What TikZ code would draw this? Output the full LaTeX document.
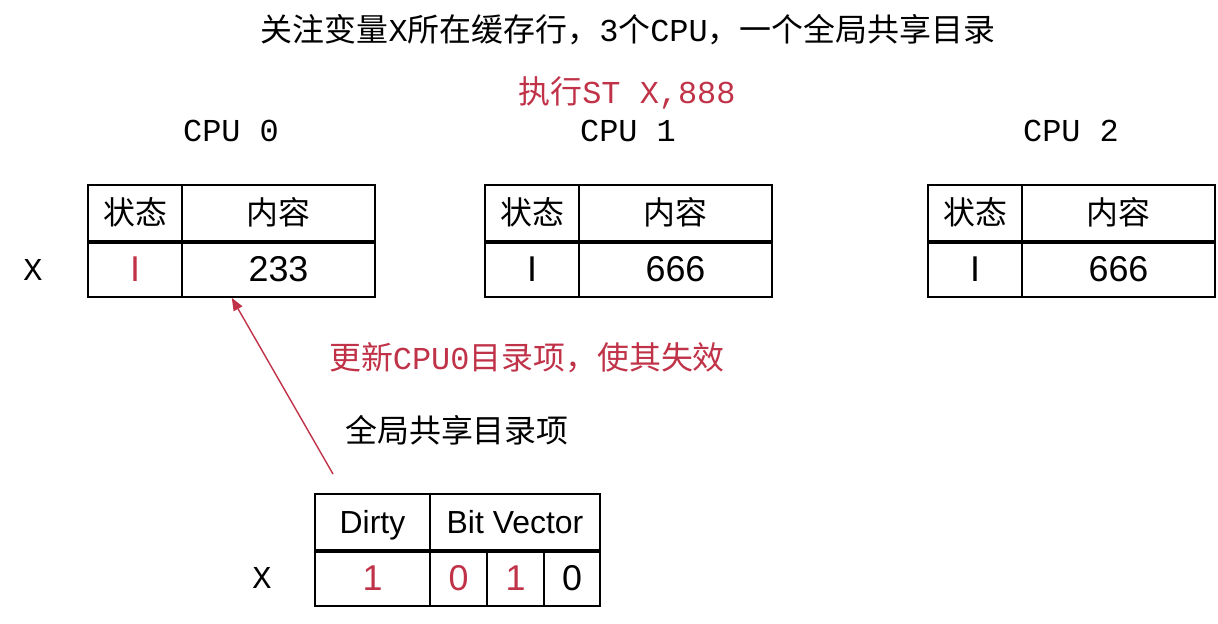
\documentclass[tikz,border=0pt]{standalone}
\usepackage{fontspec}
\setmainfont{Liberation Sans}
\setmonofont{Liberation Mono}
\newfontfamily\cjk{Noto Sans CJK SC}
\usetikzlibrary{arrows.meta, positioning, calc}
\definecolor{hotred}{RGB}{192,50,72}

\begin{document}
\begin{tikzpicture}[x=0.025cm, y=-0.025cm,
  cell/.style={draw, line width=1.2pt, minimum height=1.4cm, inner sep=0pt, text height=16.3pt, text depth=0pt, font=\fontsize{22.7}{27}\selectfont},
  val/.style={cell, text height=18.3pt, font=\fontsize{25.5}{30}\selectfont},
  lbl/.style={font=\fontsize{22.7}{27}\selectfont},
  mono/.style={font=\fontsize{22.7}{27}\selectfont\ttfamily},
]
\useasboundingbox (0,0) rectangle (1218,624);

\node[lbl] (title) at (628,30) {\cjk 关注变量\ttfamily X\cjk 所在缓存行，\ttfamily 3\cjk 个\ttfamily CPU\cjk ，一个全局共享目录};
\node[lbl, text=hotred] (store) at (627,93) {\cjk 执行\ttfamily ST X,888};

\foreach \i/\dx/\st/\val in {0/0/hotred/233, 1/397/black/666, 2/840/black/666} {
  \node[mono] (cpu\i) at (231+\dx,131) {CPU \i};
  \node[cell, minimum width=2.35cm]  (state\i) at (135+\dx,213) {\cjk 状态};
  \node[cell, minimum width=4.825cm] (data\i)  at (278.5+\dx,213) {\cjk 内容};
  \node[val, minimum width=2.35cm, text=\st] (stv\i) at (135+\dx,269) {I};
  \node[val, minimum width=4.825cm] (datv\i) at (278.5+\dx,269) {\val};
  \draw[line width=2.4pt] (state\i.south west) -- (data\i.south east);
}
\node[mono] (x0) at (33,270) {X};

\node[lbl, text=hotred] (inval) at (527,358) {\cjk 更新\ttfamily CPU0\cjk 目录项，使其失效};
\node[lbl] (dirlbl) at (457,430) {\cjk 全局共享目录项};

\node[cell, minimum width=2.875cm] (dirty)  at (372.5,522) {Dirty};
\node[cell, minimum width=4.25cm]  (bitvec) at (515,522) {Bit Vector};
\node[val, minimum width=2.875cm, text=hotred] (dv)  at (372.5,578) {1};
\node[val, minimum width=1.425cm, text=hotred] (bv0) at (458.5,578) {0};
\node[val, minimum width=1.425cm, text=hotred] (bv1) at (515.5,578) {1};
\node[val, minimum width=1.4cm] (bv2) at (572,578) {0};
\draw[line width=2.4pt] (dirty.south west) -- (bitvec.south east);
\node[mono] (xd) at (262,578) {X};

\coordinate (src) at (333,474);
\draw[hotred, line width=1pt, -{Triangle[length=9pt, width=7pt]}] (src) -- ($(datv0.south west)!0.26!(datv0.south east)$);
\end{tikzpicture}
\end{document}
